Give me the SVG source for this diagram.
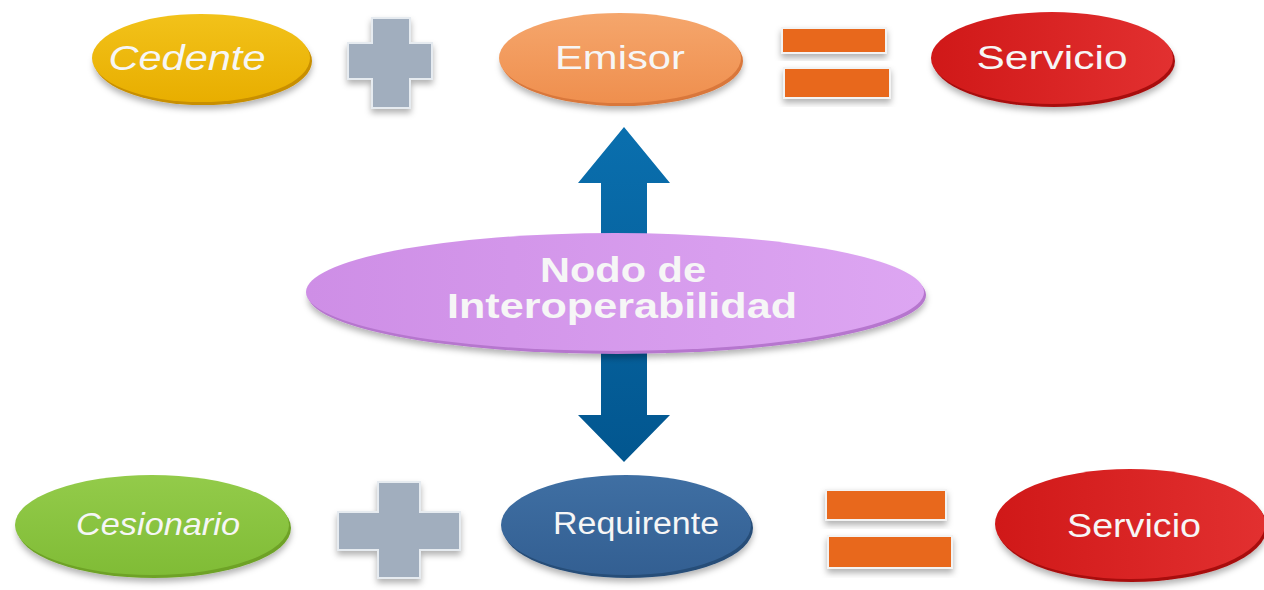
<svg xmlns="http://www.w3.org/2000/svg" width="1264" height="590" viewBox="0 0 1264 590">
<defs>
<linearGradient id="gY" x1="0" y1="0" x2="0" y2="1"><stop offset="0" stop-color="#F2C21A"/><stop offset="1" stop-color="#E8AE00"/></linearGradient>
<linearGradient id="gO" x1="0" y1="0" x2="0" y2="1"><stop offset="0" stop-color="#F5A66C"/><stop offset="1" stop-color="#EF8F4E"/></linearGradient>
<linearGradient id="gR" x1="0" y1="0" x2="1" y2="0"><stop offset="0" stop-color="#D01818"/><stop offset="1" stop-color="#E23030"/></linearGradient>
<linearGradient id="gG" x1="0" y1="0" x2="0" y2="1"><stop offset="0" stop-color="#93CB4A"/><stop offset="1" stop-color="#80BC36"/></linearGradient>
<linearGradient id="gB" x1="0" y1="0" x2="0" y2="1"><stop offset="0" stop-color="#3F6FA3"/><stop offset="1" stop-color="#335F92"/></linearGradient>
<linearGradient id="gP" x1="0" y1="0" x2="1" y2="0"><stop offset="0" stop-color="#CE8EE6"/><stop offset="1" stop-color="#DDA6F2"/></linearGradient>
<linearGradient id="gA" x1="0" y1="0" x2="0" y2="1"><stop offset="0" stop-color="#0A6FAE"/><stop offset="1" stop-color="#02568F"/></linearGradient>
<filter id="sh" x="-10%" y="-20%" width="120%" height="150%"><feDropShadow dx="0" dy="4" stdDeviation="3" flood-color="#000" flood-opacity="0.3"/></filter>
</defs>
<style>
.lbl{font-family:"Liberation Sans",Arial,sans-serif;fill:#F6F6F6;text-anchor:middle;dominant-baseline:central}
.it{font-style:italic}
.plus{fill:#A1AEBE;stroke:#E6EBF0;stroke-width:2;filter:url(#sh)}
.eq{fill:#E8671A;stroke:#F3F3F3;stroke-width:2;filter:url(#sh)}
</style>

<g id="connectors">
<path d="M624,127 L670,183 L647,183 L647,415 L670,415 L624,462 L578,415 L601,415 L601,183 L578,183 Z" fill="url(#gA)"/>
</g>

<g id="cedente">
<ellipse cx="203" cy="61" rx="109" ry="44" fill="#C88F00" filter="url(#sh)"/>
<ellipse cx="201" cy="58" rx="109" ry="44" fill="url(#gY)"/>
<text class="lbl it" x="187" y="57" font-size="35" textLength="157" lengthAdjust="spacingAndGlyphs">Cedente</text>
</g>
<g id="plus1">
<path class="plus" d="M372,18 H410 V43 H432 V79 H410 V108 H372 V79 H348 V43 H372 Z"/>
</g>
<g id="emisor">
<ellipse cx="622" cy="61" rx="121" ry="45" fill="#D9773A" filter="url(#sh)"/>
<ellipse cx="620" cy="58" rx="121" ry="45" fill="url(#gO)"/>
<text class="lbl" x="620" y="57" font-size="33" textLength="130" lengthAdjust="spacingAndGlyphs">Emisor</text>
</g>
<g id="equals1">
<rect class="eq" x="782" y="28" width="104" height="25"/>
<rect class="eq" x="784" y="68" width="106" height="30"/>
</g>
<g id="servicio1">
<ellipse cx="1054" cy="61" rx="121" ry="46" fill="#A80F0F" filter="url(#sh)"/>
<ellipse cx="1052" cy="58" rx="121" ry="46" fill="url(#gR)"/>
<text class="lbl" x="1052" y="57" font-size="33" textLength="151" lengthAdjust="spacingAndGlyphs">Servicio</text>
</g>

<g id="nodo">
<ellipse cx="617" cy="295" rx="309" ry="59" fill="#B676CE" filter="url(#sh)"/>
<ellipse cx="615" cy="292" rx="309" ry="59" fill="url(#gP)"/>
<text class="lbl" x="623" y="269" font-size="35" font-weight="bold" textLength="166" lengthAdjust="spacingAndGlyphs">Nodo de</text>
<text class="lbl" x="622" y="305" font-size="35" font-weight="bold" textLength="350" lengthAdjust="spacingAndGlyphs">Interoperabilidad</text>
</g>

<g id="cesionario">
<ellipse cx="154" cy="528" rx="137" ry="50" fill="#6EA228" filter="url(#sh)"/>
<ellipse cx="152" cy="525" rx="137" ry="50" fill="url(#gG)"/>
<text class="lbl it" x="158" y="524" font-size="32" textLength="164" lengthAdjust="spacingAndGlyphs">Cesionario</text>
</g>
<g id="plus2">
<path class="plus" d="M378,482 H420 V512 H460 V550 H420 V578 H378 V550 H338 V512 H378 Z"/>
</g>
<g id="requirente">
<ellipse cx="628" cy="528" rx="125" ry="50" fill="#284D78" filter="url(#sh)"/>
<ellipse cx="626" cy="525" rx="125" ry="50" fill="url(#gB)"/>
<text class="lbl" x="636" y="523" font-size="31" textLength="166" lengthAdjust="spacingAndGlyphs">Requirente</text>
</g>
<g id="equals2">
<rect class="eq" x="826" y="490" width="120" height="30"/>
<rect class="eq" x="828" y="536" width="124" height="32"/>
</g>
<g id="servicio2">
<ellipse cx="1132" cy="527" rx="135" ry="55" fill="#A80F0F" filter="url(#sh)"/>
<ellipse cx="1130" cy="524" rx="135" ry="55" fill="url(#gR)"/>
<text class="lbl" x="1134" y="525" font-size="34" textLength="134" lengthAdjust="spacingAndGlyphs">Servicio</text>
</g>
</svg>
